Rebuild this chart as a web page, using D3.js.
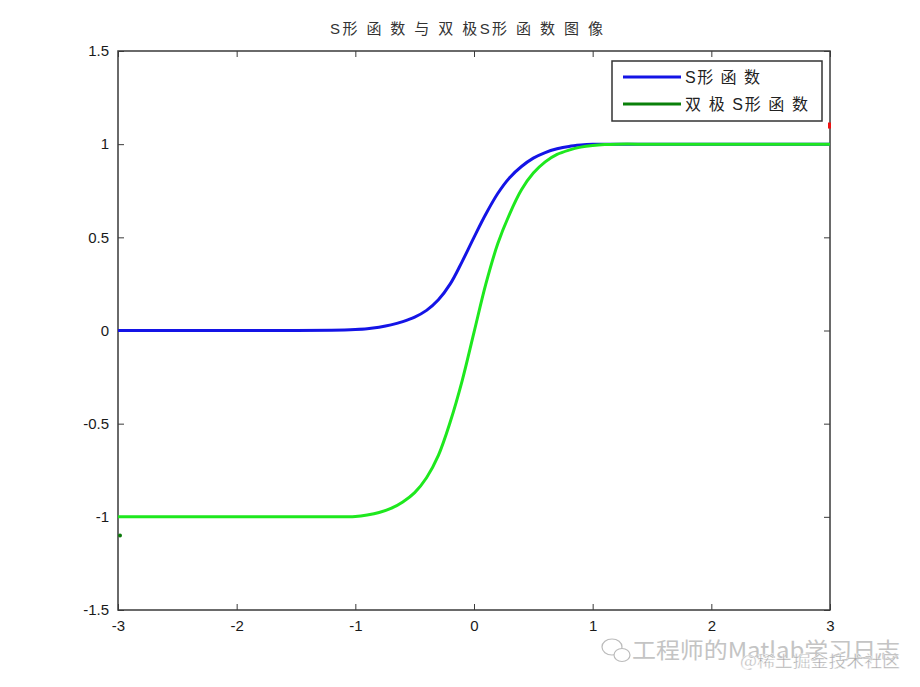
<!DOCTYPE html>
<html><head><meta charset="utf-8">
<script src="https://cdn.jsdelivr.net/npm/d3@7"></script>
<style>body{margin:0;background:#fff}svg{display:block}</style>
</head><body>
<svg id="c" width="920" height="687"></svg>
<script>
const xValues = [-3, -2, -1.5, -1.2, -1, -0.9, -0.8, -0.7, -0.6, -0.5, -0.4, -0.3, -0.2, -0.1, 0, 0.1, 0.2, 0.3, 0.4, 0.5, 0.6, 0.7, 0.8, 0.9, 1, 1.1, 1.2, 1.5, 2, 3];
const sigmoidValues = [0, 0, 0, 0.002, 0.006, 0.01, 0.018, 0.03, 0.048, 0.072, 0.108, 0.165, 0.25, 0.37, 0.5, 0.625, 0.735, 0.82, 0.88, 0.925, 0.955, 0.975, 0.988, 0.995, 0.999, 1, 1, 1, 1, 1];
const bipolarValues = [-1, -1, -1, -1, -0.998, -0.99, -0.977, -0.955, -0.92, -0.87, -0.79, -0.67, -0.49, -0.27, -0.01, 0.25, 0.465, 0.625, 0.755, 0.845, 0.905, 0.945, 0.968, 0.984, 0.993, 0.998, 1, 1, 1, 1];
const xTicks = [-3, -2, -1, 0, 1, 2, 3];
const yTicks = [-1.5, -1, -0.5, 0, 0.5, 1, 1.5];
const seriesNames = ["S形 函 数", "双 极 S形 函 数"];
const titleText = "S形 函 数 与 双 极S形 函 数 图 像";
const markX = [3, -3];
const markY = [1.1, -1.1];

const svg = d3.select("#c");
const L = 118, R = 830, T = 51, B = 610;
const x = d3.scaleLinear().domain([-3, 3]).range([L, R]);
const y = d3.scaleLinear().domain([-1.5, 1.5]).range([B, T]);
const font = "Arial, 'Liberation Sans', 'Noto Sans CJK SC', sans-serif";
const axisColor = "#3a3a3a";

// axes
const ax = (g) => g.selectAll("text").attr("font-family", font).attr("font-size", 15).attr("fill", "#1a1a1a");
svg.append("g").attr("transform", `translate(0,${B})`)
  .call(d3.axisBottom(x).tickValues(xTicks).tickSize(-6).tickPadding(10).tickFormat(d => String(d)))
  .call(ax).call(g => g.select(".domain").remove()).call(g => g.selectAll("line").attr("stroke", axisColor));
svg.append("g").attr("transform", `translate(0,${T})`)
  .call(d3.axisTop(x).tickValues(xTicks).tickSize(-6).tickFormat(""))
  .call(g => g.select(".domain").remove()).call(g => g.selectAll("line").attr("stroke", axisColor));
svg.append("g").attr("transform", `translate(${L},0)`)
  .call(d3.axisLeft(y).tickValues(yTicks).tickSize(-6).tickPadding(9).tickFormat(d => String(d)))
  .call(ax).call(g => g.select(".domain").remove()).call(g => g.selectAll("line").attr("stroke", axisColor));
svg.append("g").attr("transform", `translate(${R},0)`)
  .call(d3.axisRight(y).tickValues(yTicks).tickSize(-6).tickFormat(""))
  .call(g => g.select(".domain").remove()).call(g => g.selectAll("line").attr("stroke", axisColor));
svg.append("rect").attr("x", L).attr("y", T).attr("width", R - L).attr("height", B - T)
  .attr("fill", "none").attr("stroke", axisColor).attr("stroke-width", 1.5);

// curves
const line = (vals) => d3.line().x((d, i) => x(xValues[i])).y(d => y(d)).curve(d3.curveCatmullRom.alpha(0.5))(vals);
svg.append("path").attr("d", line(sigmoidValues)).attr("fill", "none").attr("stroke", "#1414e6").attr("stroke-width", 3);
svg.append("path").attr("d", line(bipolarValues)).attr("fill", "none").attr("stroke", "#1ee81e").attr("stroke-width", 3);

// small markers
svg.append("rect").attr("x", x(markX[0]) - 2).attr("y", y(markY[0]) - 3).attr("width", 3).attr("height", 6).attr("fill", "#ee1111");
svg.append("circle").attr("cx", x(markX[1]) + 2).attr("cy", y(markY[1])).attr("r", 2).attr("fill", "#0a7a0a");

// title
svg.append("text").attr("x", 330).attr("y", 34)
  .attr("font-family", font).attr("font-size", 15).attr("fill", "#333")
  .attr("textLength", 273).attr("lengthAdjust", "spacing").text(titleText);

// legend
const lg = svg.append("g");
lg.append("rect").attr("x", 612).attr("y", 61).attr("width", 210).attr("height", 60)
  .attr("fill", "#fff").attr("stroke", "#333").attr("stroke-width", 1.5);
const legColors = ["#1414e6", "#0a800a"];
const legLens = [75, 123];
seriesNames.forEach((n, i) => {
  const yy = 77 + i * 27;
  lg.append("line").attr("x1", 623).attr("x2", 681).attr("y1", yy).attr("y2", yy).attr("stroke", legColors[i]).attr("stroke-width", 3);
  lg.append("text").attr("x", 685).attr("y", yy + 6).attr("font-family", font).attr("font-size", 16).attr("fill", "#222")
    .attr("textLength", legLens[i]).attr("lengthAdjust", "spacing").text(n);
});

// watermark
const wm = svg.append("g");
wm.append("ellipse").attr("cx", 612).attr("cy", 647).attr("rx", 10).attr("ry", 8).attr("fill", "none").attr("stroke", "#bbb").attr("stroke-width", 1.2);
wm.append("ellipse").attr("cx", 622).attr("cy", 655).attr("rx", 8).attr("ry", 6.5).attr("fill", "#fff").attr("stroke", "#bbb").attr("stroke-width", 1.2);
wm.append("text").attr("x", 632).attr("y", 658).attr("font-family", "'Noto Sans CJK SC', sans-serif").attr("font-size", 22).attr("fill", "#c4c4c4")
  .attr("textLength", 268).attr("lengthAdjust", "spacingAndGlyphs").text("工程师的Matlab学习日志");
wm.append("text").attr("x", 740).attr("y", 667).attr("font-family", "'Noto Sans CJK SC', sans-serif").attr("font-size", 16).attr("fill", "#a8a8a8").attr("stroke", "#fff").attr("stroke-width", 0.4)
  .attr("textLength", 160).attr("lengthAdjust", "spacingAndGlyphs").text("@稀土掘金技术社区");
</script>
</body></html>
